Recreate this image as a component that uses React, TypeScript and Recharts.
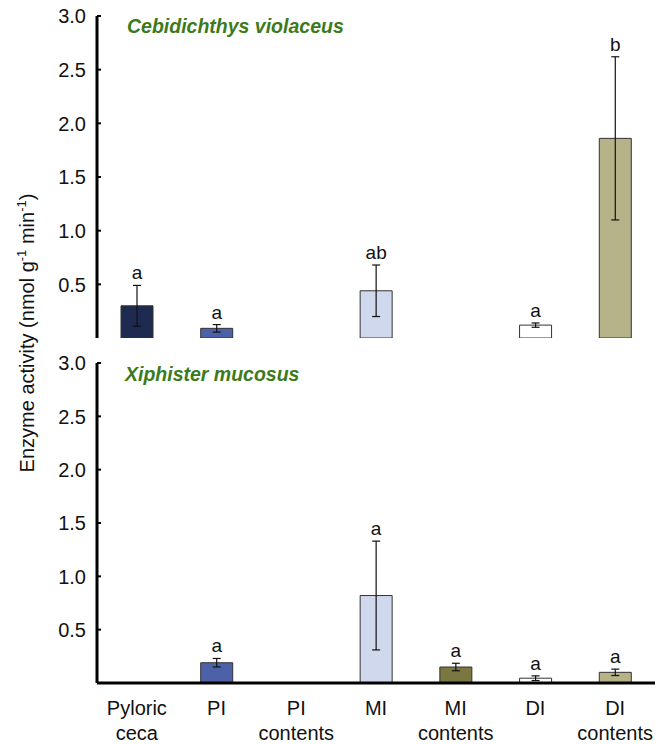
import React from "react";
import { ComposedChart, Bar, XAxis, YAxis, ErrorBar, Cell, LabelList } from "recharts";

const categories = ["Pyloric ceca", "PI", "PI contents", "MI", "MI contents", "DI", "DI contents"];
const barColors = ["#1e2a4f", "#4b62a8", "#ffffff", "#cfd8ec", "#7a7840", "#ffffff", "#b7b389"];
const yTicks = [0.5, 1.0, 1.5, 2.0, 2.5, 3.0];

const cebMeans = [0.3, 0.09, null, 0.44, null, 0.12, 1.86];
const cebErr = [0.19, 0.035, null, 0.24, null, 0.02, 0.76];
const cebLetters = ["a", "a", "", "ab", "", "a", "b"];

const xipMeans = [null, 0.19, null, 0.82, 0.15, 0.045, 0.1];
const xipErr = [null, 0.04, null, 0.51, 0.035, 0.022, 0.03];
const xipLetters = ["", "a", "", "a", "a", "a", "a"];

const FONT = "'Liberation Sans', Arial, sans-serif";
const GREEN = "#3d7a1a";

function build(means: (number | null)[], errs: (number | null)[], letters: string[]) {
  return categories.map((c, i) => ({ name: c, value: means[i], err: errs[i], letter: letters[i] }));
}

const YTick = (props: any) => {
  const { x, y, payload } = props;
  return (
    <g>
      <line x1={x} x2={x + 4} y1={y} y2={y} stroke="#000" strokeWidth={2} />
      <text x={x - 11} y={y} dy="0.36em" textAnchor="end" fontSize={20} fill="#111" fontFamily={FONT}>
        {payload.value.toFixed(1)}
      </text>
    </g>
  );
};

const XTick = (props: any) => {
  const { x, y, payload } = props;
  const s = String(payload.value);
  const idx = s.indexOf(" ");
  const lines = idx < 0 ? [s] : [s.slice(0, idx), s.slice(idx + 1)];
  return (
    <g>
      {lines.map((l, i) => (
        <text key={i} x={x} y={y + 32 + i * 25} textAnchor="middle" fontSize={20} fill="#111" fontFamily={FONT}>
          {l}
        </text>
      ))}
    </g>
  );
};

// bars with no value are skipped, so the label index runs over drawn bars only
function letterContent(data: any[]) {
  const drawn = data.filter((d) => d.value != null);
  return (props: any) => {
    const { x, y, width, height, index } = props;
    const d = drawn[index];
    if (!d || !d.letter) return null;
    const errPx = height > 0 ? (d.err * height) / d.value : 0;
    return (
      <text x={x + width / 2} y={y - errPx - 6} textAnchor="middle" fontSize={19} fill="#111" fontFamily={FONT}>
        {d.letter}
      </text>
    );
  };
}

function Panel({ data, height, top, showLabels }: { data: any[]; height: number; top: number; showLabels: boolean }) {
  return (
    <ComposedChart
      width={664}
      height={height}
      data={data}
      margin={{ top, right: 9, bottom: showLabels ? 0 : 7, left: 0 }}
      barSize={32}
    >
      <XAxis
        dataKey="name"
        type="category"
        height={showLabels ? 61 : 0}
        axisLine={{ stroke: "#000", strokeWidth: 3 }}
        tickLine={false}
        tickSize={0}
        tickMargin={0}
        tick={showLabels ? <XTick /> : false}
        interval={0}
      />
      <YAxis
        domain={[0, 3]}
        ticks={yTicks}
        width={97}
        axisLine={{ stroke: "#000", strokeWidth: 3 }}
        tickLine={false}
        tickSize={0}
        tickMargin={0}
        tick={<YTick />}
        allowDataOverflow
      />
      <Bar dataKey="value" stroke="#333" strokeWidth={1} isAnimationActive={false}>
        {data.map((_, i) => (
          <Cell key={i} fill={barColors[i]} />
        ))}
        <ErrorBar dataKey="err" width={4} stroke="#111" strokeWidth={1.2} direction="y" />
        <LabelList dataKey="letter" content={letterContent(data)} />
      </Bar>
    </ComposedChart>
  );
}

export default function App() {
  const ceb = build(cebMeans, cebErr, cebLetters);
  const xip = build(xipMeans, xipErr, xipLetters);
  return (
    <div style={{ position: "absolute", left: 0, top: 0, width: 664, height: 744, background: "#fff", fontFamily: FONT }}>
      <div style={{ position: "absolute", left: 0, top: 0 }}>
        <Panel data={ceb} height={345} top={16} showLabels={false} />
      </div>
      <div style={{ position: "absolute", left: 0, top: 345 }}>
        <Panel data={xip} height={399} top={18} showLabels={true} />
      </div>
      <svg width={664} height={744} style={{ position: "absolute", left: 0, top: 0, pointerEvents: "none" }}>
        <text x={127} y={33} fontSize={19.5} fontWeight="bold" fontStyle="italic" fill={GREEN} fontFamily={FONT}>
          Cebidichthys violaceus
        </text>
        <text x={125} y={381} fontSize={19.5} fontWeight="bold" fontStyle="italic" fill={GREEN} fontFamily={FONT}>
          Xiphister mucosus
        </text>
        <text
          transform="translate(34,333) rotate(-90)"
          textAnchor="middle"
          fontSize={20}
          fill="#111"
          fontFamily={FONT}
        >
          Enzyme activity (nmol g
          <tspan fontSize={13} dy={-8}>-1</tspan>
          <tspan dy={8}> min</tspan>
          <tspan fontSize={13} dy={-8}>-1</tspan>
          <tspan dy={8}>)</tspan>
        </text>
      </svg>
    </div>
  );
}
